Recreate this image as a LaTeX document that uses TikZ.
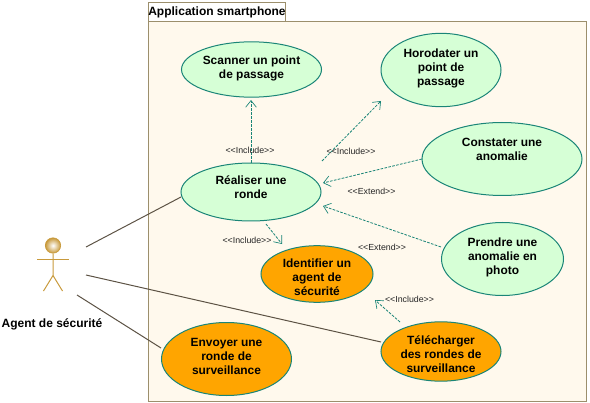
\documentclass[tikz,border=0pt]{standalone}
\usepackage{fontspec}
\setmainfont{Liberation Sans}
\usetikzlibrary{arrows.meta,shapes.geometric}
\definecolor{frameC}{HTML}{9C8F6C}
\definecolor{paperC}{HTML}{FFF9ED}
\definecolor{greenC}{HTML}{D6FFD6}
\definecolor{orangeC}{HTML}{FFA500}
\definecolor{edgeC}{HTML}{1A8577}
\definecolor{lineC}{HTML}{5C5244}
\definecolor{actorC}{HTML}{C89A3C}
\newcommand\casetext[2]{\raisebox{#1}[0pt][0pt]{\begin{tabular}{@{}c@{}}#2\end{tabular}}}
\tikzset{
  x=0.75pt,y=-0.75pt,
  usecase/.style={ellipse,draw=edgeC,line width=0.75pt,inner sep=0pt,outer sep=0pt,font=\fontsize{8.95}{10.6}\selectfont\bfseries},
  green case/.style={usecase,fill=greenC},
  orange case/.style={usecase,fill=orangeC},
  assoc/.style={draw=lineC,line width=0.75pt},
  dep/.style={draw=edgeC,line width=0.6pt,dash pattern=on 2pt off 1pt,-{Straight Barb[length=5pt,width=8pt,line width=0.5pt]}},
  stereo/.style={font=\fontsize{6.6}{8}\selectfont,inner sep=0pt,text=black!85},
  actorline/.style={draw=actorC,line width=0.75pt},
}
\begin{document}
\begin{tikzpicture}
\useasboundingbox (0,0) rectangle (590,403);
\draw[frameC,line width=0.75pt,fill=paperC] (148.5,21.5) rectangle (586.5,401.5);
\draw[frameC,line width=0.75pt,fill=white] (148.5,2.5) rectangle (285.5,21.5);
\node[font=\fontsize{9}{11}\selectfont\bfseries,inner sep=0pt] (title) at (217,12) {Application smartphone};

\node[green case,minimum width=105pt,minimum height=41.5pt] (scan) at (251.5,69.5) {\casetext{-1.5pt}{Scanner un point\\de passage}};
\node[green case,minimum width=90pt,minimum height=55pt] (horo) at (441,70) {\casetext{-1.25pt}{Horodater un\\point de\\passage}};
\node[green case,minimum width=120pt,minimum height=54.75pt] (const) at (502,159) {\casetext{4pt}{Constater une\\anomalie}};
\node[green case,minimum width=105pt,minimum height=43.5pt] (real) at (251,192) {\casetext{0pt}{Réaliser une\\ronde}};
\node[green case,minimum width=91.5pt,minimum height=54.75pt] (prend) at (502.5,259) {\casetext{-1.25pt}{Prendre une\\anomalie en\\photo}};
\node[orange case,minimum width=84pt,minimum height=42.5pt] (ident) at (317,274) {\casetext{-5.5pt}{Identifier un\\agent de\\sécurité}};
\node[orange case,minimum width=97.5pt,minimum height=54.75pt] (envoy) at (226.5,359) {\casetext{-1.25pt}{Envoyer une\\ronde de\\surveillance}};
\node[orange case,minimum width=90pt,minimum height=44.5pt] (tele) at (441,351.5) {\casetext{-5.6pt}{Télécharger\\des rondes de\\surveillance}};

\node[circle,minimum size=11.5pt,inner sep=0pt,draw=actorC,line width=0.5pt,inner color=white,outer color=actorC] (head) at (53,245.5) {};
\coordinate (armL) at (37,259.3);
\coordinate (armR) at (69,259.3);
\coordinate (hip) at (53,275.5);
\coordinate (legL) at (43.5,291);
\coordinate (legR) at (62.5,291);
\draw[actorline] (head) -- (hip) -- (legL);
\draw[actorline] (hip) -- (legR);
\draw[actorline] (armL) -- (armR);
\node[font=\fontsize{9}{11}\selectfont\bfseries,inner sep=0pt] (agent) at (52,324) {Agent de sécurité};

\coordinate (a1) at (86,247);
\coordinate (a2) at (86,275);
\coordinate (a3) at (77,295);
\coordinate (b1) at (181,197);
\coordinate (b2) at (381,342);
\coordinate (b3) at (161,348);
\draw[assoc] (a1) -- (b1);
\draw[assoc] (a2) -- (b2);
\draw[assoc] (a3) -- (b3);

\coordinate (d1s) at (251,163);  \coordinate (d1e) at (251,100);
\coordinate (d2s) at (322,161);  \coordinate (d2e) at (381,101);
\coordinate (d3s) at (422,159);  \coordinate (d3e) at (323,183);
\coordinate (d4s) at (441,247);  \coordinate (d4e) at (323,206);
\coordinate (d5s) at (266,224);  \coordinate (d5e) at (282,244);
\coordinate (d6s) at (400,322);  \coordinate (d6e) at (375,300);
\draw[dep] (d1s) -- (d1e);
\draw[dep] (d2s) -- (d2e);
\draw[dep] (d3s) -- (d3e);
\draw[dep] (d4s) -- (d4e);
\draw[dep] (d5s) -- (d5e);
\draw[dep] (d6s) -- (d6e);

\node[stereo] (l1) at (250,150.5) {<{}<Include>{}>};
\node[stereo] (l2) at (351,151.5) {<{}<Include>{}>};
\node[stereo] (l3) at (371.5,191.5) {<{}<Extend>{}>};
\node[stereo] (l4) at (247,240.5) {<{}<Include>{}>};
\node[stereo] (l5) at (382,247.5) {<{}<Extend>{}>};
\node[stereo] (l6) at (409.5,299.5) {<{}<Include>{}>};
\end{tikzpicture}
\end{document}
